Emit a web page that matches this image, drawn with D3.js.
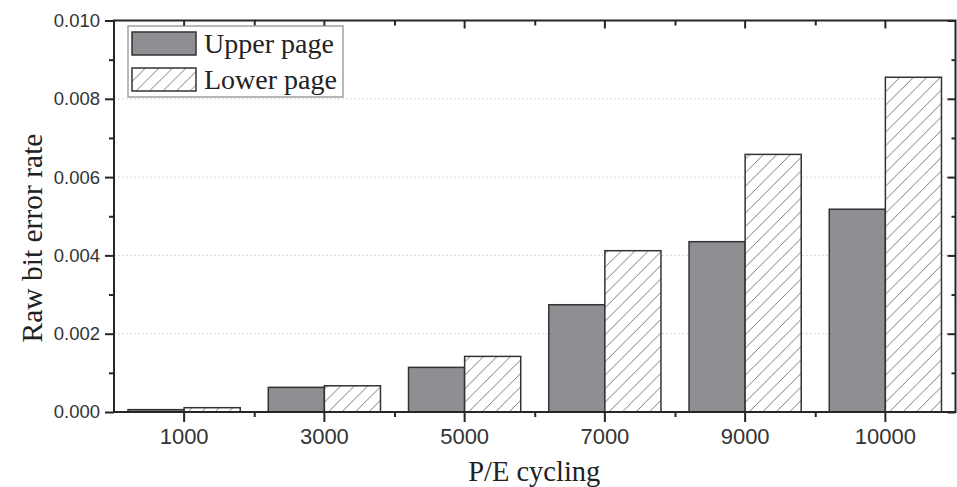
<!DOCTYPE html>
<html><head><meta charset="utf-8">
<script src="https://cdn.jsdelivr.net/npm/d3@7"></script>
<style>
html,body{margin:0;padding:0;background:#fff;}
svg{display:block;}
</style></head>
<body>
<svg id="chart" width="957" height="487"></svg>
<script>
const categories = ["1000","3000","5000","7000","9000","10000"];
const seriesNames = ["Upper page","Lower page"];
const upperPage = [0.00006, 0.00063, 0.00114, 0.00274, 0.00435, 0.00518];
const lowerPage = [0.00011, 0.00067, 0.00142, 0.00412, 0.00658, 0.00855];
const yMajorTicks = [0, 0.002, 0.004, 0.006, 0.008, 0.010];
const yMinorTicks = [0.001, 0.003, 0.005, 0.007, 0.009];
const xTitle = "P/E cycling";
const yTitle = "Raw bit error rate";

const svg = d3.select("#chart");
const L = 114, R = 955.5, T = 20.5, B = 412;
const frameColor = "#262626";

const defs = svg.append("defs");
const pat = defs.append("pattern").attr("id","hatch")
  .attr("patternUnits","userSpaceOnUse").attr("width",13.5).attr("height",13.5);
pat.append("rect").attr("width",13.5).attr("height",13.5).attr("fill","#fff");
pat.append("path").attr("d","M-3.375,3.375 L3.375,-3.375 M0,13.5 L13.5,0 M10.125,16.875 L16.875,10.125")
  .attr("stroke","#5a5a5a").attr("stroke-width",0.8);

const x = d3.scaleBand().domain(categories).range([L, R]).padding(0);
const xs = d3.scaleBand().domain(seriesNames).range([0, x.bandwidth()]).paddingInner(0).paddingOuter(0.25);
const y = d3.scaleLinear().domain([0, 0.010]).range([B, T]);

// grid
svg.append("g").selectAll("line").data(yMajorTicks.filter(v => v > 0 && v < 0.010)).join("line")
  .attr("x1", L).attr("x2", R).attr("y1", d => y(d)).attr("y2", d => y(d))
  .attr("stroke","#c8c8c8").attr("stroke-width",1).attr("stroke-dasharray","1.5,2.5");

// bars
const data = categories.map((c,i) => ({c, vals:[{s:seriesNames[0], v:upperPage[i]},{s:seriesNames[1], v:lowerPage[i]}]}));
const g = svg.append("g").selectAll("g").data(data).join("g")
  .attr("transform", d => `translate(${x(d.c)},0)`);
g.selectAll("rect").data(d => d.vals).join("rect")
  .attr("x", d => xs(d.s)).attr("width", xs.bandwidth())
  .attr("y", d => y(d.v)).attr("height", d => B - y(d.v))
  .attr("fill", d => d.s === seriesNames[0] ? "#8e8f93" : "url(#hatch)")
  .attr("stroke","#333").attr("stroke-width",1.5);

// frame
svg.append("rect").attr("x",L).attr("y",T).attr("width",R-L).attr("height",B-T)
  .attr("fill","none").attr("stroke",frameColor).attr("stroke-width",2);

const boundaries = categories.slice(1).map(c => x(c));
const xMinor = d3.scaleLinear().domain([L,R]).range([L,R]);

function styleAxis(sel){
  sel.select(".domain").remove();
  sel.selectAll(".tick line").attr("stroke",frameColor).attr("stroke-width",2);
}

// left axis
svg.append("g").attr("transform",`translate(${L},0)`)
  .call(d3.axisLeft(y).tickValues(yMajorTicks).tickSize(9).tickPadding(5).tickFormat(d3.format(".3f")))
  .call(styleAxis)
  .call(s => s.selectAll("text").attr("font-family","'Liberation Sans', Arial, sans-serif").attr("font-size",18.5).attr("fill","#333"));
svg.append("g").attr("transform",`translate(${L},0)`)
  .call(d3.axisLeft(y).tickValues(yMinorTicks).tickSize(5).tickFormat(""))
  .call(styleAxis);
// right axis
svg.append("g").attr("transform",`translate(${R},0)`)
  .call(d3.axisLeft(y).tickValues(yMajorTicks).tickSize(8).tickFormat(""))
  .call(styleAxis);
svg.append("g").attr("transform",`translate(${R},0)`)
  .call(d3.axisLeft(y).tickValues(yMinorTicks).tickSize(4).tickFormat(""))
  .call(styleAxis);

// bottom axis
svg.append("g").attr("transform",`translate(0,${B})`)
  .call(d3.axisBottom(x).tickSize(10).tickPadding(6))
  .call(styleAxis)
  .call(s => s.selectAll("text").attr("font-family","'Liberation Sans', Arial, sans-serif").attr("font-size",22).attr("fill","#333"));
svg.append("g").attr("transform",`translate(0,${B})`)
  .call(d3.axisBottom(xMinor).tickValues(boundaries).tickSize(5).tickFormat(""))
  .call(styleAxis);
// top axis (inward)
svg.append("g").attr("transform",`translate(0,${T})`)
  .call(d3.axisBottom(x).tickSize(8).tickFormat(""))
  .call(styleAxis);
svg.append("g").attr("transform",`translate(0,${T})`)
  .call(d3.axisBottom(xMinor).tickValues(boundaries).tickSize(5).tickFormat(""))
  .call(styleAxis);

// titles
svg.append("text").attr("x",(L+R)/2 - 0.5).attr("y",481)
  .attr("text-anchor","middle").attr("font-family","'Liberation Serif', 'Times New Roman', serif")
  .attr("font-size",28.5).attr("fill","#222").text(xTitle);
svg.append("text").attr("transform","translate(42,238) rotate(-90)")
  .attr("text-anchor","middle").attr("font-family","'Liberation Serif', 'Times New Roman', serif")
  .attr("font-size",29.5).attr("fill","#222").text(yTitle);

// legend
const lg = svg.append("g");
lg.append("rect").attr("x",128).attr("y",26).attr("width",215).attr("height",71)
  .attr("fill","#fff").attr("stroke","#8a8a8a").attr("stroke-width",1.2);
const items = lg.selectAll("g").data(seriesNames).join("g")
  .attr("transform",(d,i) => `translate(132,${32 + i*36})`);
items.append("rect").attr("width",64).attr("height",23)
  .attr("fill", d => d === seriesNames[0] ? "#8e8f93" : "url(#hatch)")
  .attr("stroke","#333").attr("stroke-width",1.5);
items.append("text").attr("x",72).attr("y",21)
  .attr("font-family","'Liberation Serif', 'Times New Roman', serif").attr("font-size",28)
  .attr("fill","#222").text(d => d);
</script>
</body></html>
